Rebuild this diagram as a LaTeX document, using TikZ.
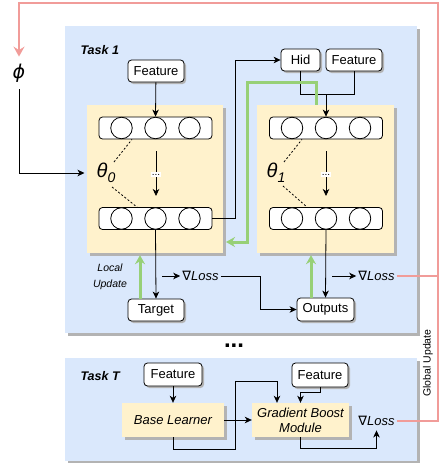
\documentclass[tikz,border=0pt]{standalone}
\usepackage{fontspec}
\setmainfont{Liberation Sans}
\newfontfamily\dvfont{DejaVu Sans}
\usetikzlibrary{arrows.meta,shadows,calc}
\definecolor{taskblue}{HTML}{DAE8FC}
\definecolor{learnyellow}{HTML}{FFF2CC}
\definecolor{updgreen}{HTML}{97D077}
\definecolor{globpink}{HTML}{F19C99}
\definecolor{shadowgray}{HTML}{B3B3B3}
\newcommand\myNabla{{\dvfont ∇}}
\begin{document}
\begin{tikzpicture}[x=1pt,y=-1pt,
  font=\fontsize{13}{15}\selectfont,
  bigsh/.style={drop shadow={shadow xshift=3pt,shadow yshift=-3pt,fill=shadowgray,opacity=1}},
  smallsh/.style={drop shadow={shadow xshift=2pt,shadow yshift=-2pt,fill=shadowgray,opacity=1}},
  taskbox/.style={fill=taskblue,draw=none,bigsh,inner sep=0pt},
  yellowbox/.style={fill=learnyellow,draw=none,bigsh,inner sep=0pt},
  wbox/.style={fill=white,draw=black,line width=0.8pt,rounded corners=3.5pt,smallsh,inner sep=0pt},
  layerbox/.style={fill=white,draw=black,line width=0.8pt,rounded corners=3.5pt,minimum width=113pt,minimum height=22pt,inner sep=0pt},
  neuron/.style={circle,draw=black,fill=white,line width=0.8pt,minimum size=21.5pt,inner sep=0pt},
  arr/.style={-{Stealth[length=7pt,width=6.5pt,inset=2pt]},line width=0.8pt},
  ln/.style={line width=0.8pt},
  dotln/.style={dash pattern=on 2pt off 2pt,line width=0.8pt},
  greenarr/.style={draw=updgreen,line width=3pt,-{Stealth[length=9pt,width=10pt,inset=3pt]}},
  pinkln/.style={draw=globpink,line width=2.8pt},
  pinkarr/.style={draw=globpink,line width=2.8pt,-{Stealth[length=10pt,width=11pt,inset=3.5pt]}},
  losslbl/.style={font=\fontsize{13}{15}\selectfont,inner sep=2pt},
  dotslbl/.style={fill=white,inner xsep=1pt,inner ysep=2pt,font=\fontsize{10}{10}\selectfont,pos=0.53}
]
\useasboundingbox (0,0) rectangle (440,463);

% task backgrounds
\node[taskbox,minimum width=352pt,minimum height=307pt] (task1) at (241,179.5) {};
\node[taskbox,minimum width=352pt,minimum height=103pt] (taskT) at (241,409.5) {};
\node[anchor=west,font=\fontsize{12.5}{14}\selectfont\bfseries\itshape] (t1lbl) at (77,50) {Task 1};
\node[anchor=west,font=\fontsize{12.5}{14}\selectfont\bfseries\itshape] (tTlbl) at (77,376) {Task T};
\node[font=\fontsize{24}{24}\selectfont\bfseries,inner sep=0pt] (ell) at (234,346) {...};

% learner boxes
\node[yellowbox,minimum width=136pt,minimum height=148pt] (yL) at (155,179) {};
\node[yellowbox,minimum width=137pt,minimum height=148pt] (yR) at (325.5,179) {};

% layers
\foreach \nm/\cx/\cy in {l0t/155.5/128,l0b/155.5/218.5,l1t/326/128,l1b/326/218.5}{
  \node[layerbox] (\nm) at (\cx,\cy) {};
  \foreach \i/\dx in {1/-34,2/0,3/34}
    \node[neuron] (\nm\i) at ($(\nm)+(\dx,0)$) {};
}

% theta labels
\node[inner xsep=12pt,inner ysep=2pt] (th0) at (106,173) {\fontsize{20}{20}\selectfont\itshape θ\raisebox{-5pt}{\fontsize{14}{14}\selectfont 0}};
\node[inner xsep=12pt,inner ysep=2pt] (th1) at (276,173) {\fontsize{20}{20}\selectfont\itshape θ\raisebox{-5pt}{\fontsize{14}{14}\selectfont 1}};
\coordinate (th0u) at (114,162);
\coordinate (th0d) at (112,187);
\coordinate (th1u) at (284,162);
\coordinate (th1d) at (283,186);
\draw[dotln] (th0u) -- ([xshift=-23.5pt]l0t.south);
\draw[dotln] (th0d) -- ([xshift=-18.5pt]l0b.north);
\draw[dotln] (th1u) -- ([xshift=-24pt]l1t.south);
\draw[dotln] (th1d) -- ([xshift=-19pt]l1b.north);

% inner arrows with dots
\coordinate (m0s) at (156,151); \coordinate (m0e) at (156,196);
\coordinate (m1s) at (326,151); \coordinate (m1e) at (326,196);
\draw[arr] (m0s) -- node[dotslbl] (d0) {...} (m0e);
\draw[arr] (m1s) -- node[dotslbl] (d1) {...} (m1e);

% white boxes
\node[wbox,minimum width=56pt,minimum height=22pt] (featA) at (156,71) {Feature};
\node[wbox,minimum width=39pt,minimum height=22pt] (hid) at (300.5,60) {Hid};
\node[wbox,minimum width=56pt,minimum height=22pt] (featB) at (354,60) {Feature};
\node[wbox,minimum width=56pt,minimum height=22pt] (target) at (156,310) {Target};
\node[wbox,minimum width=57pt,minimum height=23pt] (outputs) at (325.5,309.5) {Outputs};
\node[wbox,minimum width=58pt,minimum height=23pt] (featT) at (173,374.5) {Feature};
\node[wbox,minimum width=56pt,minimum height=24pt] (featT2) at (320,375) {Feature};

% task T learners
\node[yellowbox,minimum width=102pt,minimum height=34pt,font=\fontsize{13}{15}\selectfont\itshape] (baseL) at (173,420) {Base Learner};
\node[yellowbox,minimum width=97pt,minimum height=34pt,font=\fontsize{13}{15}\selectfont\itshape,align=center] (gbm) at (300.5,420) {Gradient Boost\\Module};

% loss labels
\node[losslbl] (lossL) at (200.5,276) {\myNabla\textit{Loss}};
\node[losslbl] (lossA) at (376.5,276) {\myNabla\textit{Loss}};
\node[losslbl,inner ysep=4.5pt] (lossT) at (376.5,421) {\myNabla\textit{Loss}};

% phi
\node[inner sep=7pt,font=\fontsize{19}{19}\selectfont\dvfont\itshape] (phi) at (19,73) {ϕ};

% local update label
\node[align=center,font=\fontsize{10.5}{16}\selectfont\itshape] (lu) at (110,277) {Local\\Update};
\node[rotate=90,font=\fontsize{10.5}{12}\selectfont] (gu) at (428,363) {Global Update};

% connectors task 1
\draw[arr] (featA) -- (l0t.north);
\draw[arr] (phi.south) |- (th0.west);
\draw[arr] (l0b.east) -- ++(23,0) |- (hid.west);
\coordinate (merge) at (326,94);
\draw[ln] (hid.south) |- (merge);
\draw[ln] (featB.south) |- (merge);
\draw[arr] (merge) -- (l1t.north);
\draw[arr] (l0b.south) -- (target.north);
\draw[arr] (l1b.south) -- (outputs.north);
\coordinate (lsL) at (162,276);
\coordinate (lsA) at (332,276);
\draw[arr] (lsL) -- (lossL.west);
\draw[arr] (lsA) -- (lossA.west);
\coordinate (bendO) at (260,276);
\draw[arr] (lossL.east) -- (bendO) |- (outputs.west);

% green update arrows
\coordinate (gEnd) at (226,242);
\coordinate (gTop) at (247,82);
\draw[greenarr] ([xshift=-9.5pt]yR.north) |- (gTop) |- (gEnd);
\draw[greenarr] ([xshift=-16pt]target.north) -- ([xshift=-16pt,yshift=-2pt]target.north |- yL.south);
\draw[greenarr] ([xshift=-14.5pt]outputs.north) -- ([xshift=-14.5pt,yshift=-2pt]outputs.north |- yR.south);

% connectors task T
\draw[arr] (featT) -- (baseL);
\draw[arr] (baseL) -- (gbm);
\coordinate (tb1) at (235,449);
\coordinate (tb2) at (235,381);
\draw[arr] (baseL.south) |- (tb1) -- (tb2) -| ([xshift=-23.5pt]gbm.north);
\draw[arr] (featT2.south) -- ++(0,5) -| (gbm.north);
\draw[arr] (gbm.south) -- ++(0,11) -| (lossT.south);

% global update
\coordinate (gTR) at (438,3);
\coordinate (gTL) at (19,3);
\draw[pinkarr] (lossT.east) -| (gTR) -- (gTL) -- (phi.north);
\draw[pinkln] (lossA.east) -- (lossA.east -| gTR);
\end{tikzpicture}
\end{document}
